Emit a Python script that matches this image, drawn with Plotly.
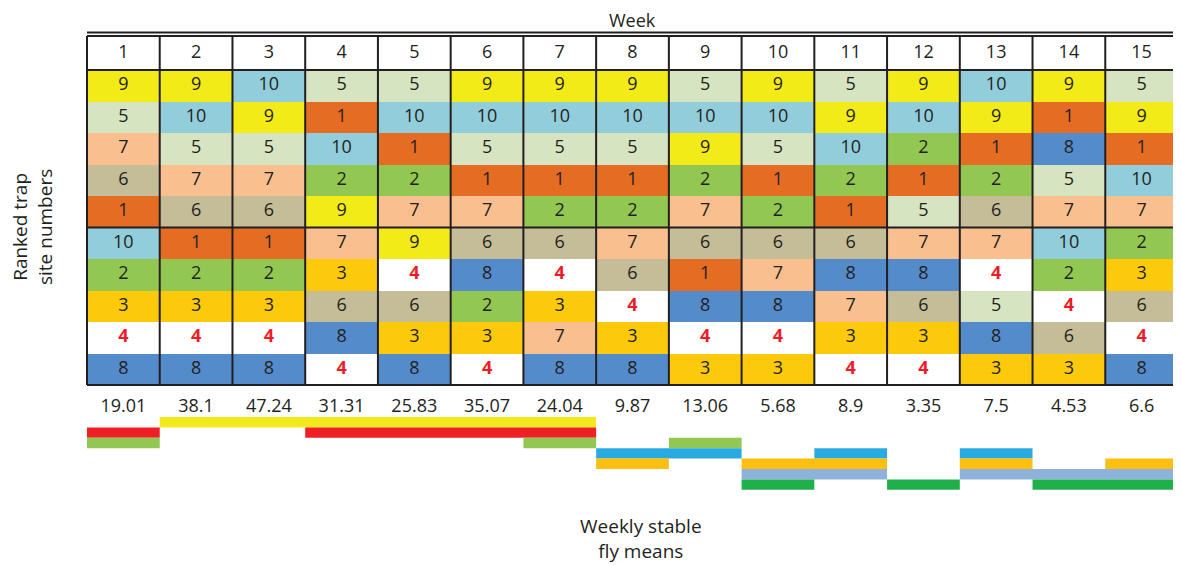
import plotly.graph_objects as go

# ---------------- data ----------------
weeks = list(range(1, 16))
weekly_means = ["19.01", "38.1", "47.24", "31.31", "25.83", "35.07", "24.04",
                "9.87", "13.06", "5.68", "8.9", "3.35", "7.5", "4.53", "6.6"]

# ranked trap site numbers per week (rank 1 .. 10 top to bottom)
rank_w1 = [9, 5, 7, 6, 1, 10, 2, 3, 4, 8]
rank_w2 = [9, 10, 5, 7, 6, 1, 2, 3, 4, 8]
rank_w3 = [10, 9, 5, 7, 6, 1, 2, 3, 4, 8]
rank_w4 = [5, 1, 10, 2, 9, 7, 3, 6, 8, 4]
rank_w5 = [5, 10, 1, 2, 7, 9, 4, 6, 3, 8]
rank_w6 = [9, 10, 5, 1, 7, 6, 8, 2, 3, 4]
rank_w7 = [9, 10, 5, 1, 2, 6, 4, 3, 7, 8]
rank_w8 = [9, 10, 5, 1, 2, 7, 6, 4, 3, 8]
rank_w9 = [5, 10, 9, 2, 7, 6, 1, 8, 4, 3]
rank_w10 = [9, 10, 5, 1, 2, 6, 7, 8, 4, 3]
rank_w11 = [5, 9, 10, 2, 1, 6, 8, 7, 3, 4]
rank_w12 = [9, 10, 2, 1, 5, 7, 8, 6, 3, 4]
rank_w13 = [10, 9, 1, 2, 6, 7, 4, 5, 8, 3]
rank_w14 = [9, 1, 8, 5, 7, 10, 2, 4, 6, 3]
rank_w15 = [5, 9, 1, 10, 7, 2, 3, 6, 4, 8]
rankings = [rank_w1, rank_w2, rank_w3, rank_w4, rank_w5, rank_w6, rank_w7, rank_w8,
            rank_w9, rank_w10, rank_w11, rank_w12, rank_w13, rank_w14, rank_w15]

site_colors = {1: "#E46C23", 2: "#92C851", 3: "#FDCA0B", 4: "#FFFFFF", 5: "#D6E4C1",
               6: "#C4BD97", 7: "#FABF8F", 8: "#548BCB", 9: "#F3EB17", 10: "#92CDDC"}

# grouping bars below the means (weeks covered by each band level)
band_colors = ["#F2EA1A", "#EE1F25", "#92C851", "#29ABE2", "#FDBF10", "#8DB3DC", "#1FB04B"]
band_weeks = [
    [2, 3, 4, 5, 6, 7],
    [1, 4, 5, 6, 7],
    [1, 7, 9],
    [8, 9, 11, 13],
    [8, 10, 11, 13, 15],
    [10, 11, 13, 14, 15],
    [10, 12, 14, 15],
]

# ---------------- geometry ----------------
OFF = 8  # page body margin
W, H = 1181, 565
FW, FH = W - OFF, H - OFF
left_px, right_px = 87, 1178
px_per_col = (right_px - left_px) / 15
row_px = 31.5
row1_top_px = 70


def ypx(p):
    return 0.5 + (p - row1_top_px) / row_px


def xpx(p):
    return (p - left_px) / px_per_col


x_range = [xpx(OFF), xpx(W)]
y_top = ypx(OFF)
y_bot = ypx(H)

FONT = "Open Sans"
TXT = "#231F20"
NUM_SIZE = 18
LAB_SIZE = 19

fig = go.Figure()

# heatmap of cells
z = [[rankings[w][r] for w in range(15)] for r in range(10)]
cs = []
for i in range(10):
    c = site_colors[i + 1]
    cs.append([i / 10, c])
    cs.append([(i + 1) / 10, c])
fig.add_trace(go.Heatmap(
    z=z, x=[w - 0.5 for w in weeks], y=list(range(1, 11)),
    zmin=0.5, zmax=10.5, colorscale=cs, showscale=False, hoverinfo="skip",
    xgap=0, ygap=0))

# cell numbers
tx, ty, tt, tc = [], [], [], []
for w in range(15):
    for r in range(10):
        s = rankings[w][r]
        tx.append(w + 0.5)
        ty.append(r + 1)
        if s == 4:
            tt.append("<b>4</b>")
            tc.append("#EE1C25")
        else:
            tt.append(str(s))
            tc.append(TXT)
fig.add_trace(go.Scatter(x=tx, y=ty, text=tt, mode="text",
                         textfont=dict(family=FONT, size=NUM_SIZE, color=tc),
                         hoverinfo="skip", showlegend=False))

# header week numbers
fig.add_trace(go.Scatter(x=[w - 0.5 for w in weeks], y=[ypx(53)] * 15,
                         text=[str(w) for w in weeks], mode="text",
                         textfont=dict(family=FONT, size=NUM_SIZE, color=TXT),
                         hoverinfo="skip", showlegend=False))

# weekly means
fig.add_trace(go.Scatter(x=[w - 0.5 for w in weeks], y=[ypx(407)] * 15,
                         text=weekly_means, mode="text",
                         textfont=dict(family=FONT, size=NUM_SIZE, color=TXT),
                         hoverinfo="skip", showlegend=False))


def runs(wk):
    out = []
    start = prev = wk[0]
    for w in wk[1:]:
        if w == prev + 1:
            prev = w
        else:
            out.append((start, prev))
            start = prev = w
    out.append((start, prev))
    return out


# grouping bands (contiguous weeks merged into one bar)
band_h = 10.4
for k, (col, wk) in enumerate(zip(band_colors, band_weeks)):
    yc = ypx(417 + band_h * k + band_h / 2)
    rr = runs(wk)
    fig.add_trace(go.Bar(orientation="h", y=[yc] * len(rr),
                         x=[b - a + 1 for a, b in rr],
                         base=[a - 1 for a, b in rr], width=band_h / row_px,
                         marker=dict(color=col, line=dict(width=0)),
                         hoverinfo="skip", showlegend=False))

# grid lines
hdr_top = ypx(36)
tbl_bot = ypx(385)
LC = "#231F20"
for i in range(16):
    fig.add_shape(type="line", x0=i, x1=i, y0=hdr_top, y1=tbl_bot,
                  line=dict(color=LC, width=2), xref="x", yref="y")
for yv in [ypx(32.5), hdr_top, 0.5, 5.5, tbl_bot]:
    fig.add_shape(type="line", x0=0, x1=15, y0=yv, y1=yv,
                  line=dict(color=LC, width=2), xref="x", yref="y")

# labels
fig.add_annotation(x=7.5, y=ypx(20), text="Week", showarrow=False,
                   font=dict(family=FONT, size=18, color=TXT), xref="x", yref="y")
fig.add_annotation(x=xpx(32), y=ypx(227), text="Ranked trap<br>site numbers",
                   textangle=-90, showarrow=False,
                   font=dict(family=FONT, size=LAB_SIZE, color=TXT), xref="x", yref="y")
fig.add_annotation(x=xpx(641), y=ypx(538), text="Weekly stable<br>fly means",
                   showarrow=False, font=dict(family=FONT, size=LAB_SIZE, color=TXT),
                   xref="x", yref="y")

fig.update_layout(
    width=FW, height=FH, margin=dict(l=0, r=0, t=0, b=0),
    paper_bgcolor="white", plot_bgcolor="white", barmode="overlay",
    showlegend=False,
    xaxis=dict(range=x_range, visible=False, fixedrange=True),
    yaxis=dict(range=[y_bot, y_top], visible=False, fixedrange=True),
)

fig.write_html("out.html")
